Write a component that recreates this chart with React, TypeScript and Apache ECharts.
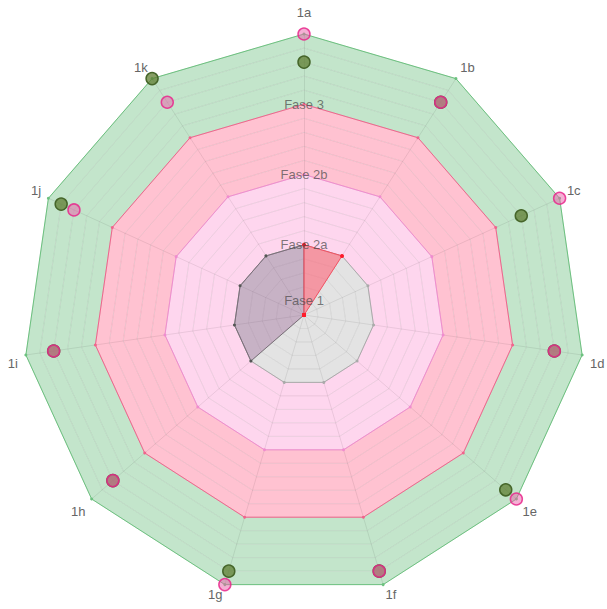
import React, { useEffect, useRef } from "react";
import * as echarts from "echarts";

const indicatorNames = ["1a", "1b", "1c", "1d", "1e", "1f", "1g", "1h", "1i", "1j", "1k"];
const scaleMax = 20;
const ringCount = 20;

// zone outlines (phase boundaries)
const zoneFase3 = [20, 20, 20, 20, 20, 20, 20, 20, 20, 20, 20];
const zoneFase2b = [15, 15, 15, 15, 15, 15, 15, 15, 15, 15, 15];
const zoneFase2a = [10, 10, 10, 10, 10, 10, 10, 10, 10, 10, 10];
const zoneFase1 = [5, 5, 5, 5, 5, 5, 5, 5, 5, 5, 5];

// filled progress polygons
const purpleValues = [5, 0, 0, 0, 0, 0, 0, 5, 5, 5, 5];
const redValues = [5, 5, 0, 0, 0, 0, 0, 0, 0, 0, 0];

// markers
const greenMarkers = [18, 18, 17, 18, 19, 19, 19, 18, 18, 19, 20];
const pinkMarkers = [20, 18, 20, 18, 20, 19, 20, 18, 18, 18, 18];

// phase labels and the ring value where they sit
const phaseLabels = ["Fase 1", "Fase 2a", "Fase 2b", "Fase 3"];
const phaseLabelValues = [1, 5, 10, 15];

const ringColors = [
  "#e3e3e3", "#e3e3e3", "#e3e3e3", "#e3e3e3", "#e3e3e3",
  "#fed6ee", "#fed6ee", "#fed6ee", "#fed6ee", "#fed6ee",
  "#ffc2d1", "#ffc2d1", "#ffc2d1", "#ffc2d1", "#ffc2d1",
  "#c3e5cb", "#c3e5cb", "#c3e5cb", "#c3e5cb", "#c3e5cb",
];

const CX = 304;
const CY = 315;
const R = 281;

// per-label style nudges (layout only)
const nameStyleKey: Record<string, string> = {
  "1a": "top",
  "1b": "up",
  "1k": "up",
  "1c": "up",
  "1j": "up",
  "1d": "down",
  "1i": "down",
  "1e": "down",
  "1h": "down",
  "1f": "low",
  "1g": "low",
};

// ECharts lays indicators out counter-clockwise; reorder so they run clockwise
function cw<T>(arr: T[]): T[] {
  const n = arr.length;
  return arr.map((_, i) => arr[(n - i) % n]);
}

function zoneSeries(values: number[], color: string, width: number) {
  return {
    type: "radar",
    silent: true,
    symbol: "circle",
    symbolSize: 3,
    itemStyle: { color },
    lineStyle: { color, width },
    areaStyle: { opacity: 0 },
    data: [{ value: cw(values) }],
  };
}

const font = "Liberation Sans, Arial, sans-serif";
const nameText = { color: "#666666", fontSize: 13, fontFamily: font };

export default function App() {
  const ref = useRef<HTMLDivElement>(null);
  useEffect(() => {
    if (!ref.current) return;
    const chart = echarts.init(ref.current, null, { renderer: "svg" });
    const option = {
      animation: false,
      backgroundColor: "#ffffff",
      radar: {
        center: [CX, CY],
        radius: R,
        startAngle: 90,
        splitNumber: ringCount,
        shape: "polygon",
        indicator: cw(indicatorNames).map((n) => ({ name: n, min: 0, max: scaleMax })),
        axisName: {
          ...nameText,
          formatter: (name: string) => `{${nameStyleKey[name] || "n"}|${name}}`,
          rich: {
            n: { ...nameText },
            top: { ...nameText, padding: [0, 0, 7, 0] },
            up: { ...nameText, padding: [0, 0, 8, 0] },
            down: { ...nameText, padding: [14, 0, 0, 0] },
            low: { ...nameText, padding: [5, 0, 0, 0] },
          },
        },
        nameGap: 8,
        splitArea: { show: true, areaStyle: { color: ringColors } },
        splitLine: { lineStyle: { color: "rgba(0,0,0,0.08)", width: 1 } },
        axisLine: { lineStyle: { color: "rgba(0,0,0,0.08)", width: 1 } },
        axisTick: { show: false },
        axisLabel: { show: false },
      },
      graphic: phaseLabels.map((t, i) => ({
        type: "text",
        x: CX,
        y: CY - (R * phaseLabelValues[i]) / scaleMax,
        silent: true,
        z: 100,
        style: {
          text: t,
          fill: "rgba(70,70,70,0.7)",
          fontSize: 13,
          fontFamily: font,
          align: "center",
          verticalAlign: "middle",
        },
      })),
      series: [
        zoneSeries(zoneFase3, "#6cc27f", 1),
        zoneSeries(zoneFase2b, "#f0648c", 1),
        zoneSeries(zoneFase2a, "#f08ccf", 1),
        zoneSeries(zoneFase1, "#aaaaaa", 1),
        {
          type: "radar",
          silent: true,
          symbol: "circle",
          symbolSize: 3,
          itemStyle: { color: "#555555" },
          lineStyle: { color: "#777777", width: 1 },
          areaStyle: { color: "rgba(137,67,130,0.3)", opacity: 1 },
          data: [{ value: cw(purpleValues) }],
        },
        {
          type: "radar",
          silent: true,
          symbol: "circle",
          symbolSize: 4,
          itemStyle: { color: "#ff1a2a" },
          lineStyle: { color: "#f04a5a", width: 1 },
          areaStyle: { color: "rgba(255,100,120,0.6)", opacity: 1 },
          data: [{ value: cw(redValues) }],
        },
        {
          type: "radar",
          silent: true,
          symbol: "circle",
          symbolSize: 12,
          itemStyle: {
            color: "rgba(95,125,50,0.75)",
            borderColor: "#46662a",
            borderWidth: 1.5,
          },
          lineStyle: { width: 0, opacity: 0 },
          areaStyle: { opacity: 0 },
          data: [{ value: cw(greenMarkers) }],
        },
        {
          type: "radar",
          silent: true,
          symbol: "circle",
          symbolSize: 12,
          itemStyle: {
            color: "rgba(235,95,170,0.5)",
            borderColor: "rgba(232,40,140,0.85)",
            borderWidth: 1.5,
          },
          lineStyle: { width: 0, opacity: 0 },
          areaStyle: { opacity: 0 },
          data: [{ value: cw(pinkMarkers) }],
        },
      ],
    };
    chart.setOption(option as any);
    return () => chart.dispose();
  }, []);
  return (
    <div
      ref={ref}
      style={{ position: "absolute", left: 0, top: 0, width: 607, height: 609 }}
    />
  );
}
